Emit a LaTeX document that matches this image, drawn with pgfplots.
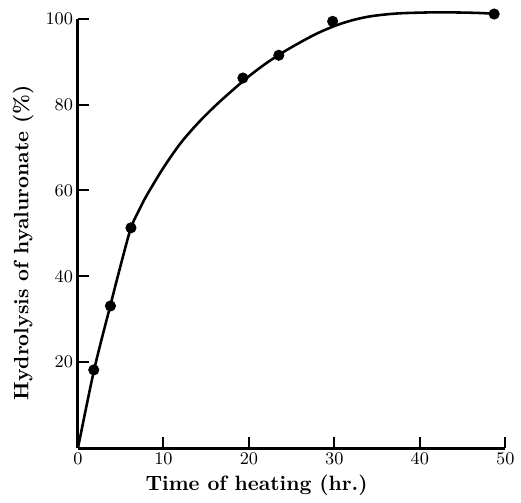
\documentclass[border=0pt]{standalone}
\usepackage{pgfplots}
\pgfplotsset{compat=1.18}
\begin{document}
\begin{tikzpicture}
    \begin{axis}[
        at={(0,0)}, anchor=south west,
        scale only axis,
        width=216.5pt, height=217.5pt,
        xmin=0, xmax=50,
        ymin=0, ymax=100,
        axis x line=bottom,
        axis y line=left,
        axis line style={line width=1.5pt, -},
        xtick={0,10,20,30,40,50},
        ytick={20,40,60,80,100},
        tick align=inside,
        major tick length=5.5pt,
        tick style={line width=1pt, black},
        tick label style={font=\fontsize{9.2}{10}\selectfont},
        xticklabel style={yshift=1pt},
        yticklabel style={xshift=1pt},
        xlabel={\textbf{Time of heating (hr.)}},
        ylabel={\textbf{Hydrolysis of hyaluronate (\%)}},
        label style={font=\fontsize{10.5}{12}\selectfont},
        xlabel style={at={(axis description cs:0.418,0)}, anchor=north, yshift=-10pt},
        ylabel style={at={(axis description cs:0,0.478)}, anchor=south, yshift=19pt},
        clip=false
    ]
    % hand-drawn curve through the measurements
    \addplot[line width=1.3pt, smooth, mark=none] coordinates {
        (0,0) (1.9,18.3) (3.8,33.3) (5,42.6) (6.2,51.3) (7.2,55.6)
        (8,58.7) (10,65.3) (12,71.0) (14,75.6) (16,79.6) (18,83.2)
        (20,86.6) (22,89.6) (24,92.2) (26,94.5) (28,96.6) (30,98.3)
        (32,99.6) (34,100.5) (36,101.0) (38,101.3) (42,101.5) (46,101.4)
        (48.6,101.2)
    };
    % measured points
    \addplot[only marks, mark=*, mark size=2.6pt, black] coordinates {
        (1.85,18.2) (3.8,33.1) (6.2,51.3) (19.3,86.2) (23.5,91.5) (29.8,99.4) (48.7,101.1)
    };
    \end{axis}
    % page frame matching the reference margins
    \path (-39.5pt,-27.5pt) rectangle (221pt,227pt);
\end{tikzpicture}
\end{document}
